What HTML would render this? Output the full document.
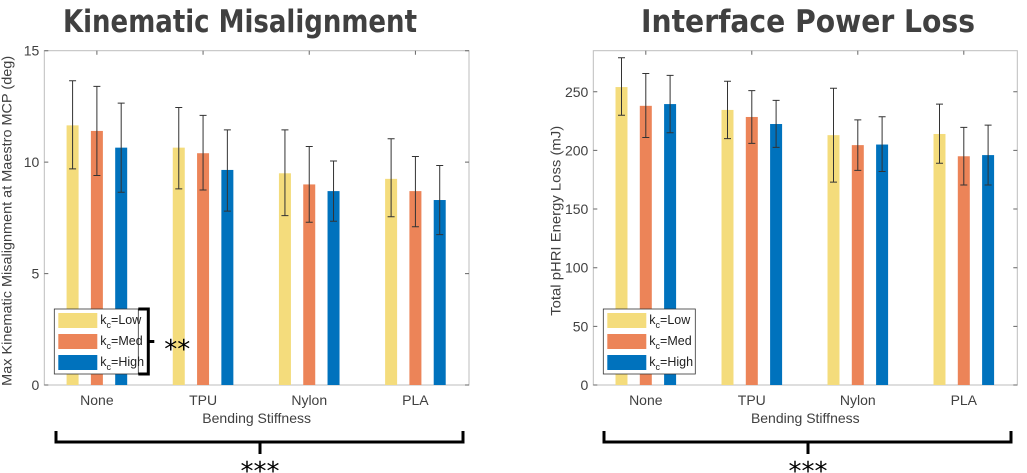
<!DOCTYPE html>
<html><head><meta charset="utf-8"><style>
body{margin:0;background:#fff;}
svg{display:block;font-family:"Liberation Sans",Arial,sans-serif;}
</style></head><body>
<svg id="svg" width="1027" height="473" viewBox="0 0 1027 473" xmlns="http://www.w3.org/2000/svg">
<text x="63" y="32" font-size="31" font-weight="bold" fill="#404040" textLength="354" lengthAdjust="spacingAndGlyphs" font-family="DejaVu Sans, Liberation Sans, sans-serif">Kinematic Misalignment</text>
<text x="641" y="32" font-size="31" font-weight="bold" fill="#404040" textLength="334" lengthAdjust="spacingAndGlyphs" font-family="DejaVu Sans, Liberation Sans, sans-serif">Interface Power Loss</text>
<g id="left"></g>
<g id="right"></g>
<path d="M56,431 V442 H463 V431 M260,442 V454" fill="none" stroke="#000" stroke-width="3"/>
<text x="260" y="480" text-anchor="middle" font-size="26" font-family="DejaVu Sans, sans-serif">***</text>
<path d="M604,431 V442 H1011 V431 M808,442 V454" fill="none" stroke="#000" stroke-width="3"/>
<text x="808" y="480" text-anchor="middle" font-size="26" font-family="DejaVu Sans, sans-serif">***</text>
</svg>
<script>
const categories=["None","TPU","Nylon","PLA"];
const seriesNames=["Low","Med","High"];
const kinMean=[[11.65,10.65,9.5,9.25],[11.4,10.4,9.0,8.7],[10.65,9.65,8.7,8.3]];
const kinLo=[[9.7,8.8,7.6,7.55],[9.4,8.75,7.3,7.1],[8.65,7.8,7.35,6.75]];
const kinHi=[[13.65,12.45,11.45,11.05],[13.4,12.1,10.7,10.25],[12.65,11.45,10.05,9.85]];
const kinTicks=[0,5,10,15];
const powMean=[[254,234.5,213,214],[238,228.5,204.5,195],[239.5,222.5,205,196]];
const powLo=[[230,210,173,189],[211,206,183,170.5],[215,202.6,182,170.5]];
const powHi=[[279,259,253,239.5],[265.6,251,226,219.6],[264,242.6,228.7,221.6]];
const powTicks=[0,50,100,150,200,250];
const colors=["#F4DC7C","#EC8458","#0072BD"];
const NS="http://www.w3.org/2000/svg";
function mk(parent,tag,attrs){const e=document.createElementNS(NS,tag);for(const k in attrs)e.setAttribute(k,attrs[k]);parent.appendChild(e);return e;}
function chart(g,x0,x1,ymax,mean,lo,hi,ticks,ylabel,ylen,prefix,bracket){
  const y0=385,yt=50.7;
  const ys=v=>y0-(v/ymax)*(y0-yt);
  const gw=(x1-x0)/4;
  const xc=i=>x0+gw*(i+0.5)-0.5;
  let ax=mk(g,"rect",{x:x0,y:yt,width:x1-x0,height:y0-yt,fill:"#fff",stroke:"#bdbdbd","stroke-width":1});
  
  
  ticks.forEach(t=>{
    const y=ys(t);
    let l=mk(g,"path",{d:`M${x0},${y}h4M${x1},${y}h-4`,stroke:"#666","stroke-width":1});
    
    
    let tx=mk(g,"text",{x:x0-5,y:y+5,"text-anchor":"end","font-size":14,fill:"#404040"});
    tx.textContent=t;
    
    
  });
  categories.forEach((c,i)=>{
    let l=mk(g,"path",{d:`M${xc(i)},${y0}v-4M${xc(i)},${yt}v4`,stroke:"#666","stroke-width":1});
    
    
    let tx=mk(g,"text",{x:xc(i),y:405,"text-anchor":"middle","font-size":14,fill:"#404040"});
    tx.textContent=c;
    
    
    for(let s=0;s<3;s++){
      const bx=xc(i)+(s-1)*24.3;
      const v=mean[s][i];
      let r=mk(g,"rect",{x:bx-6,y:ys(v),width:12,height:y0-ys(v),fill:colors[s]});
      
      
      const a=ys(hi[s][i]),b=ys(lo[s][i]);
      let e=mk(g,"path",{d:`M${bx},${a}V${b}M${bx-3.5},${a}h7M${bx-3.5},${b}h7`,stroke:"#333","stroke-width":1,fill:"none"});
      
      
    }
  });
  let xl=mk(g,"text",{x:(x0+x1)/2,y:423,"text-anchor":"middle","font-size":14,fill:"#404040"});
  xl.textContent="Bending Stiffness";
  
  
  let yl=mk(g,"text",{x:0,y:0,"text-anchor":"middle","font-size":14,fill:"#404040",textLength:ylen,lengthAdjust:"spacingAndGlyphs",transform:`translate(${x0-33},${(y0+yt)/2+3}) rotate(-90)`});
  yl.textContent=ylabel;
  
  
  const Lx=x0+10,Ly=309,Lw=prefix==='left'?84:92;
  let lg=mk(g,"g",{});
  
  
  mk(lg,"rect",{x:Lx,y:Ly,width:Lw,height:65,fill:"#fff",stroke:"#333","stroke-width":0.8});
  for(let s=0;s<3;s++){
    const yy=Ly+4+s*21;
    let en=mk(lg,"g",{});
    
    
    mk(en,"rect",{x:Lx+4,y:yy,width:39,height:15,fill:colors[s]});
    let t=mk(en,"text",{x:Lx+46,y:yy+11,"font-size":12.5,fill:"#222"});
    t.innerHTML='k<tspan dy="4" font-size="9">c</tspan><tspan dy="-4">='+seriesNames[s]+'</tspan>';
  }
  if(bracket){
    let br=mk(g,"path",{d:`M${Lx+Lw},${Ly}h10v65h-10M${Lx+Lw+10},${Ly+32.5}h6`,stroke:"#000","stroke-width":3,fill:"none"});
    
    
    let st=mk(g,"text",{x:Lx+Lw+26,y:Ly+49,"font-size":26,fill:"#000","font-family":"DejaVu Sans, sans-serif"});
    st.textContent="**";
    
    
  }
}
chart(document.getElementById("left"),44.3,469,15,kinMean,kinLo,kinHi,kinTicks,"Max Kinematic Misalignment at Maestro MCP (deg)",330,"left",true);
chart(document.getElementById("right"),593.3,1017.3,285,powMean,powLo,powHi,powTicks,"Total pHRI Energy Loss (mJ)",190,"right",false);
</script>
</body></html>
